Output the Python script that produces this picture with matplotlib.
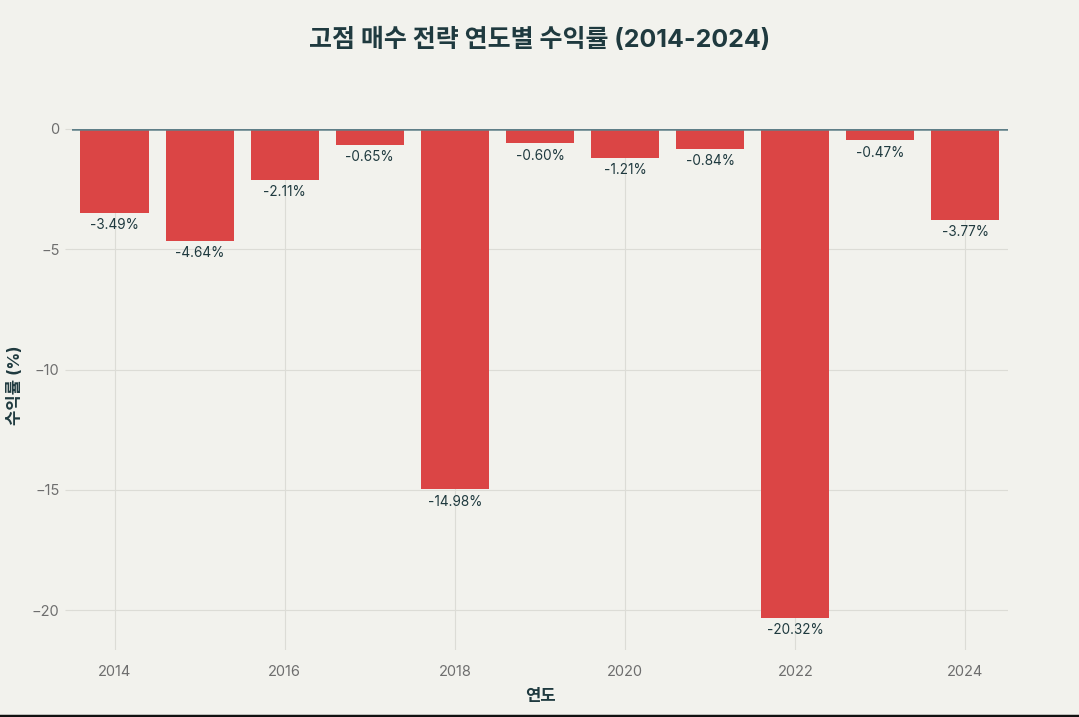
import matplotlib
matplotlib.use("Agg")
import matplotlib.pyplot as plt
from matplotlib.lines import Line2D

plt.rcParams['font.family'] = ['Inter', 'Noto Sans CJK KR', 'DejaVu Sans']

# data
years = [2014, 2015, 2016, 2017, 2018, 2019, 2020, 2021, 2022, 2023, 2024]
returns = [-3.49, -4.64, -2.11, -0.65, -14.98, -0.60, -1.21, -0.84, -20.32, -0.47, -3.77]
xticks = [2014, 2016, 2018, 2020, 2022, 2024]
yticks = [0, -5, -10, -15, -20]

bg = '#F2F2ED'
bar_color = '#DB4545'
text_dark = '#1F3A3F'
tick_gray = '#6E6E6E'
grid_gray = '#DCDCD6'

fig = plt.figure(figsize=(10.79, 7.17), dpi=100)
fig.patch.set_facecolor(bg)
ax = fig.add_axes([0.0667, 0.0934, 0.8675, 0.7267])
ax.set_facecolor(bg)

ax.bar(years, returns, width=0.8, color=bar_color, zorder=3)
for x, v in zip(years, returns):
    ax.text(x, v - 0.22, f'{v:.2f}%', ha='center', va='top',
            fontsize=9.8, color=text_dark, zorder=4)

ax.axhline(0, color='#5F7F88', linewidth=1.8, zorder=5)

ax.set_xlim(2013.5, 2024.5)
ax.set_ylim(-21.66, 0)
ax.set_xticks(xticks)
ax.set_xticklabels([str(y) for y in xticks])
ax.set_yticks(yticks)
ax.set_yticklabels(['0'] + ['\u2212' + str(-t) for t in yticks[1:]])
ax.grid(True, color=grid_gray, linewidth=0.8, zorder=0)
ax.set_axisbelow(True)

for s in ax.spines.values():
    s.set_visible(False)
ax.tick_params(axis='x', length=0, pad=11, labelsize=10.5, labelcolor=tick_gray)
ax.tick_params(axis='y', length=5, color=grid_gray, pad=4, labelsize=10.5, labelcolor=tick_gray)

fig.text(540 / 1079, 1 - 697 / 717, '연도', ha='center', va='center',
         fontsize=12, fontweight='bold', color=text_dark)
fig.text(15 / 1079, 1 - 385 / 717, '수익률 (%)', ha='center', va='center', rotation=90,
         fontsize=12, fontweight='bold', color=text_dark)

fig.text(0.5, 1 - 40 / 717, '고점 매수 전략 연도별 수익률 (2014-2024)', ha='center', va='center',
         fontsize=18, fontweight='bold', color=text_dark)

# dark border line at the very bottom of the screenshot
fig.add_artist(Line2D([0, 1], [0.002, 0.002], transform=fig.transFigure,
                      color='#111111', linewidth=2.5))

fig.savefig('out.png', dpi=100, facecolor=bg)
